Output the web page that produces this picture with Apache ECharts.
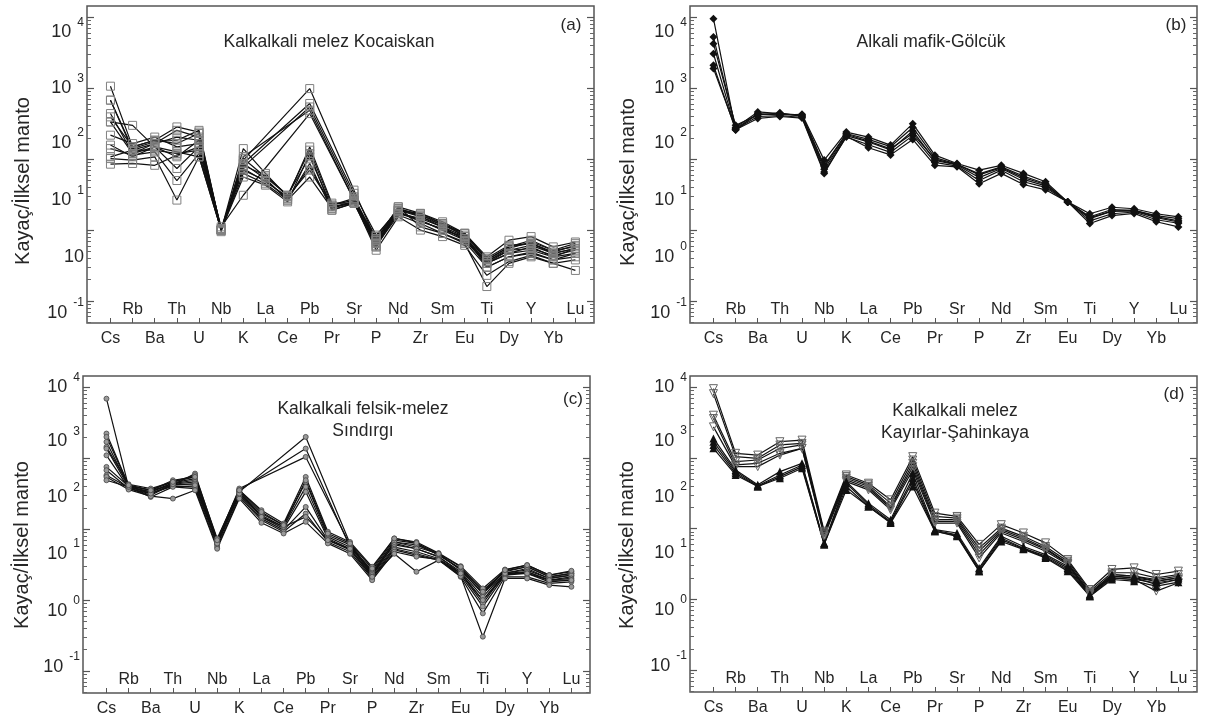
<!DOCTYPE html>
<html>
<head>
<meta charset="utf-8">
<title>Spider diagrams</title>
<script src="https://cdn.jsdelivr.net/npm/echarts@6/dist/echarts.min.js"></script>
<style>
html, body { margin: 0; padding: 0; background: #fff; }
#chart { width: 1206px; height: 723px; }
</style>
</head>
<body>
<div id="chart"></div>
<script>
// element order along the x axis
const elements = ['Cs', 'Rb', 'Ba', 'Th', 'U', 'Nb', 'K', 'La', 'Ce', 'Pb', 'Pr',
  'Sr', 'P', 'Nd', 'Zr', 'Sm', 'Eu', 'Ti', 'Dy', 'Y', 'Yb', 'Lu'];

// (a) Kalkalkali melez Kocaiskan  (rock / primitive mantle)
const kocaiskan = [
  [1070, 149, 185, 166, 230, 10, 97, null, null, 990, null, 36.6, 7.2, 20.2, 15.4, 11.1, 7.2, 3.4, 4.7, 5.8, 4.2, 5.5],
  [680, 134, 166, 255, 205, 10.5, 87, null, null, 610, null, 33, 8.5, 19.1, 17.2, 12.4, 9.0, 3.8, 5.8, 7.2, 5.2, 6.5],
  [440, 120, 149, 108, 185, 10, 78, null, null, 545, null, 29.5, 6.5, 17.2, 13.8, 10, 8.1, 3.0, 4.2, 4.7, 3.8, 4.7],
  [218, 166, 205, 149, 166, 11.1, 31, null, null, 440, null, 26.5, 5.8, 21.3, 11.1, 9.0, 6.5, 1.6, 3.4, 4.2, 3.4, 2.7],
  [108, 134, 134, 120, 134, 10, 108, null, null, 490, null, 26.5, 7.2, 18.1, 13.1, 10.5, 7.6, 3.6, 5.2, 6.1, 4.7, 5.5],
  [395, 149, 185, 285, 241, 10, 141, 63, 29.5, 149, 24, 24, 7.2, 21.3, 17.2, 13.1, 9.0, 4.2, 7.2, 8.1, 5.8, 6.8],
  [335, 120, 166, 205, 185, 9.5, 102, 56, 31, 108, 21.3, 25, 6.5, 19.1, 15.4, 11.8, 8.5, 3.8, 5.8, 6.5, 4.7, 5.5],
  [158, 108, 149, 74, 149, 10, 87, 53, 26.5, 87, 19.1, 24, 5.8, 18.1, 13.8, 10, 7.2, 3.4, 4.7, 5.2, 4.2, 4.7],
  [141, 114, 127, 50, 120, 10, 74, 48, 29.5, 70, 22.5, 26.5, 6.1, 16.3, 12.4, 9.0, 6.8, 3.0, 4.2, 4.9, 3.8, 4.2],
  [102, 97, 108, 26.5, 108, 10, 63, 45, 26.5, 56, 20.2, 25, 5.2, 15.4, 10, 8.1, 6.1, 2.3, 3.6, 4.4, 3.4, 3.8],
  [85, 87, 82, 114, 149, 10.5, 70, 50, 28, 78, 21.3, 24, 6.8, 17.2, 14.6, 11.1, 8.1, 3.4, 5.2, 5.5, 4.4, 5.2],
  [335, 300, 149, 127, 108, 10, 56, 43, 25, 120, 19.1, 24, 8.1, 20.2, 16.3, 12.4, 8.1, 3.6, 5.5, 6.8, 5.2, 5.8],
  [680, 141, 176, 185, 255, 10, 82, 59, 31, 134, 22.5, 28, 7.6, 19.1, 16.3, 11.8, 9.0, 4.0, 6.1, 6.5, 4.9, 6.1]
];

// (b) Alkali mafik-Gölcük
const golcuk = [
  [9560, 257, 440, 420, 430, 97, 241, 205, 158, 317, 114, 87, 70, 82, 63, 48, 25, 17, 21, 20, 17, 15.4],
  [5270, 280, 464, 440, 420, 82, 230, 190, 150, 280, 105, 85, 62, 78, 58, 45, 25, 15.4, 19.5, 19, 16, 14.5],
  [4260, 300, 420, 450, 400, 72, 215, 175, 135, 250, 96, 83, 55, 74, 52, 42, 25, 14.5, 18.5, 18.5, 15, 13],
  [3070, 265, 400, 410, 390, 66, 205, 160, 125, 215, 90, 80, 50, 70, 48, 40, 25, 13.5, 17, 18, 14, 12.5],
  [2110, 260, 375, 400, 380, 63, 210, 145, 115, 190, 82, 78, 45, 63, 44, 37, 25, 12.4, 16, 17.2, 13.1, 11.1],
  [1900, 270, 430, 430, 410, 78, 225, 180, 140, 230, 100, 84, 60, 76, 55, 44, 25, 15, 18.5, 19, 15.5, 13.5]
];

// (c) Kalkalkali felsik-melez Sındırgı
const sindirgi = [
  [6920, 395, 336, 440, 490, 63, 336, null, null, 2000, null, 63, 23.8, 66, 56, 45, 26.5, 12.4, 23.8, 27.9, 20.2, 22.5],
  [2230, 417, 354, 490, 546, 66, 354, null, null, 1370, null, 56, 26.5, 70, 63, 43, 27.9, 13.8, 25.1, 29.5, 21.3, 23.8],
  [1700, 404, 318, 417, 608, 70, 374, null, null, 1045, null, 60, 22.5, 63, 53, 41, 23.8, 10, 22.5, 25.1, 19.1, 21.3],
  [1445, 430, 374, 464, 576, 74, 354, 185, 120, 546, 92, 66, 29.5, 74, 66, 46, 30.1, 14.6, 27, 31.1, 22.5, 25.1],
  [1370, 395, 336, 450, 517, 66, 336, 166, 114, 464, 82, 60, 25.1, 66, 60, 44, 27, 12.4, 25.9, 29.5, 21.3, 23.8],
  [1100, 382, 301, 430, 464, 60, 318, 157, 108, 395, 78, 56, 23.8, 60, 53, 41, 25.1, 11.1, 24.3, 26.5, 20.2, 22.5],
  [755, 404, 354, 417, 440, 63, 347, 149, 102, 336, 74, 53, 22.5, 56, 48, 38.6, 23.8, 9.0, 23.8, 25.1, 19.1, 20.2],
  [678, 374, 318, 404, 395, 64, 301, 141, 97, 206, 70, 51, 21.3, 53, 45, 37.4, 22.5, 8.1, 22.5, 23.8, 18.1, 19.1],
  [576, 387, 285, 395, 374, 56, 285, 134, 92, 166, 66, 48, 20.2, 51, 43, 36.6, 21.3, 6.5, 21.3, 21.3, 17.2, 18.1],
  [546, 362, 292, 270, 354, 53, 270, 123, 87, 127, 63, 45, 19.1, 48, 41, 37.4, 21.8, 3.05, 20.2, 20.2, 16.3, 15.4],
  [490, 395, 318, 430, 417, 63, 318, 149, 108, 149, 70, 53, 21.3, 45, 25.1, 36.6, 23.8, 10, 23.8, 23.8, 19.1, 19.1],
  [2000, 417, 354, 464, 546, 70, 354, 175, 114, 490, 87, 63, 27.9, 74, 64, 45, 29.5, 13.1, 26.5, 31.1, 22.5, 25.9]
];

// (d) Kalkalkali melez Kayırlar-Şahinkaya: open (inverted) and filled triangles
const sahinkayaOpen = [
  [9570, 1165, 1100, 1700, 1790, 92, 576, 440, 256, 1045, 166, 149, 60, 114, 87, 63, 36.6, 13.8, 26.5, 27.9, 22.5, 25.1],
  [8140, 1045, 990, 1530, 1610, 87, 546, 417, 230, 937, 149, 141, 53, 102, 78, 56, 34.7, 13.1, 23.8, 23.8, 20.2, 22.5],
  [4030, 888, 937, 1370, 1530, 82, 517, 395, 206, 841, 134, 134, 48, 97, 74, 53, 32.8, 12.4, 22.5, 21.3, 18.1, 20.2],
  [3620, 797, 841, 1165, 1370, 87, 490, 374, 196, 755, 127, 127, 43, 92, 70, 51, 32.1, 11.8, 21.3, 20.2, 16.3, 19.1],
  [2760, 755, 755, 1100, 1370, 78, 464, 354, 185, 678, 120, 120, 38.6, 87, 66, 48, 31.1, 12.4, 20.2, 19.1, 13.1, 17.2]
];
const sahinkayaFilled = [
  [1890, 678, 417, 642, 841, 63, 464, 230, 134, 608, 97, 87, 27.9, 78, 56, 43, 29.5, 11.8, 22.5, 21.3, 19.1, 21.3],
  [1700, 642, 404, 576, 797, 61.5, 440, 218, 127, 517, 95, 82, 26.5, 74, 53, 41, 27.9, 11.4, 21.3, 20.2, 18.1, 20.2],
  [1530, 608, 395, 546, 755, 60, 395, 206, 123, 464, 92, 80, 25.1, 70, 52, 39.5, 26.5, 11.1, 20.2, 19.1, 17.2, 19.1],
  [1370, 576, 395, 517, 715, 60, 354, 206, 120, 395, 92, 78, 25.1, 66, 51, 38.6, 25.1, 11.1, 19.1, 18.1, 15.4, 17.5]
];

// y tick label texts (10 with exponent), one list per panel
const expLabels = [
  ['4', '3', '2', '1', '', '-1'],
  ['4', '3', '2', '1', '0', '-1'],
  ['4', '3', '2', '1', '0', '-1'],
  ['4', '3', '2', '1', '0', '-1']
];
const titles = [
  ['Kalkalkali melez Kocaiskan'],
  ['Alkali mafik-Gölcük'],
  ['Kalkalkali felsik-melez', 'Sındırgı'],
  ['Kalkalkali melez', 'Kayırlar-Şahinkaya']
];
const letters = ['(a)', '(b)', '(c)', '(d)'];
const yTitle = 'Kayaç/İlksel manto';

// ---- layout (pixels) ----
const FONT = '"Liberation Sans", Arial, sans-serif';
const TXT = '#262626';
const frames = [
  { left: 87, top: 6, width: 507, height: 317 },
  { left: 690, top: 6, width: 507, height: 317 },
  { left: 83, top: 376, width: 507, height: 317 },
  { left: 690, top: 376, width: 507, height: 316 }
];
// where the "10^n" labels sit on each panel (axis units, log10)
const labelPos = [
  [3.79, 3.0, 2.23, 1.42, 0.62, -0.17],
  [3.79, 3.0, 2.23, 1.42, 0.62, -0.17],
  [4.0, 3.24, 2.45, 1.65, 0.85, 0.06],
  [4.0, 3.24, 2.45, 1.65, 0.85, 0.06]
];
const titlePos = [[329, 42], [931, 42], [363, 409], [955, 411]];
const letterPos = [[571, 25], [1176, 25], [573, 399], [1174, 394]];
const yTitlePos = [[23, 181], [628, 182], [22, 545], [627, 545]];

const X_MIN = -1.06, X_MAX = 21.84, Y_MIN = -0.31, Y_MAX = 4.16;

const allIdx = elements.map((e, i) => i);
const evenIdx = allIdx.filter(i => i % 2 === 0);
const oddIdx = allIdx.filter(i => i % 2 === 1);
const decades = [0, 1, 2, 3, 4];
const minors = [];
for (let n = -1; n < 4; n++) {
  for (let k = 2; k < 10; k++) {
    const v = n + Math.log10(k);
    if (v > Y_MIN && v < Y_MAX) minors.push(v);
  }
}

function nearest(list, v) {
  let best = 0;
  list.forEach((p, j) => { if (Math.abs(p - v) < Math.abs(list[best] - v)) best = j; });
  return best;
}

const grid = [], xAxis = [], yAxis = [], series = [], graphic = [];
const noLine = { show: false, onZero: false };

frames.forEach((f, k) => {
  grid.push(Object.assign({ show: true, borderColor: '#555', borderWidth: 1.5, containLabel: false }, f));

  // lower row of element names + ticks
  xAxis.push({
    type: 'value', gridIndex: k, min: X_MIN, max: X_MAX, position: 'bottom',
    axisLine: noLine, splitLine: { show: false },
    axisTick: { inside: true, length: 5, customValues: allIdx, lineStyle: { color: '#555', width: 1 } },
    axisLabel: {
      customValues: evenIdx, margin: 8, fontSize: 16, color: TXT, fontFamily: FONT,
      formatter: v => elements[Math.round(v)]
    }
  });
  // upper row, drawn inside the frame
  xAxis.push({
    type: 'value', gridIndex: k, min: X_MIN, max: X_MAX, position: 'bottom',
    axisLine: noLine, axisTick: { show: false }, splitLine: { show: false },
    axisLabel: {
      inside: true, customValues: oddIdx, margin: 5, fontSize: 16, color: TXT, fontFamily: FONT,
      formatter: v => elements[Math.round(v)]
    }
  });

  const yBase = { type: 'value', gridIndex: k, min: Y_MIN, max: Y_MAX, splitLine: { show: false }, axisLine: noLine };
  yAxis.push(Object.assign({}, yBase, {
    position: 'left',
    axisTick: { inside: true, length: 7, customValues: decades, lineStyle: { color: '#555', width: 1.2 } },
    axisLabel: {
      customValues: labelPos[k], margin: 3, color: TXT, fontFamily: FONT,
      formatter: v => {
        const s = expLabels[k][nearest(labelPos[k], v)];
        return '{b|10}' + (s ? '{s|' + s + '}' : '');
      },
      rich: {
        b: { fontSize: 18, fontFamily: FONT, color: TXT },
        s: { fontSize: 12, fontFamily: FONT, color: TXT, padding: [0, 0, 20, 6] }
      }
    }
  }));
  yAxis.push(Object.assign({}, yBase, {
    position: 'left', axisLabel: { show: false },
    axisTick: { inside: true, length: 4, customValues: minors, lineStyle: { color: '#666' } }
  }));
  yAxis.push(Object.assign({}, yBase, {
    position: 'right', axisLabel: { show: false },
    axisTick: { inside: true, length: 7, customValues: decades, lineStyle: { color: '#555', width: 1.2 } }
  }));
  yAxis.push(Object.assign({}, yBase, {
    position: 'right', axisLabel: { show: false },
    axisTick: { inside: true, length: 4, customValues: minors, lineStyle: { color: '#666' } }
  }));

  // texts
  titles[k].forEach((t, j) => {
    graphic.push({
      type: 'text', x: titlePos[k][0], y: titlePos[k][1] + j * 22, silent: true,
      style: { text: t, align: 'center', verticalAlign: 'middle', font: '17.5px ' + FONT, fill: TXT }
    });
  });
  graphic.push({
    type: 'text', x: letterPos[k][0], y: letterPos[k][1], silent: true,
    style: { text: letters[k], align: 'center', verticalAlign: 'middle', font: '17px ' + FONT, fill: TXT }
  });
  graphic.push({
    type: 'text', x: yTitlePos[k][0], y: yTitlePos[k][1], rotation: Math.PI / 2, silent: true,
    style: { text: yTitle, align: 'center', verticalAlign: 'middle', font: '20px ' + FONT, fill: TXT }
  });
});

// one line per sample; missing elements are skipped so the line joins its neighbours
function addSamples(rows, k, marker) {
  rows.forEach(row => {
    const pts = [];
    row.forEach((v, i) => { if (v != null) pts.push([i, Math.log10(v)]); });
    series.push(Object.assign({
      type: 'line', xAxisIndex: k * 2, yAxisIndex: k * 4, data: pts,
      lineStyle: { color: '#111', width: 1.2 }, silent: true, animation: false
    }, marker));
  });
}

addSamples(kocaiskan, 0, {
  symbol: 'rect', symbolSize: 8,
  itemStyle: { color: 'rgba(255,255,255,0)', borderColor: '#808080', borderWidth: 1 }
});
addSamples(golcuk, 1, {
  symbol: 'diamond', symbolSize: 8, itemStyle: { color: '#111' }
});
addSamples(sindirgi, 2, {
  symbol: 'circle', symbolSize: 5, itemStyle: { color: '#999', borderColor: '#444', borderWidth: 0.8 }
});
addSamples(sahinkayaOpen, 3, {
  symbol: 'triangle', symbolRotate: 180, symbolSize: 8,
  itemStyle: { color: 'rgba(255,255,255,0)', borderColor: '#666', borderWidth: 1 }
});
addSamples(sahinkayaFilled, 3, {
  symbol: 'triangle', symbolSize: 8, itemStyle: { color: '#111' }
});

const chart = echarts.init(document.getElementById('chart'), null, { renderer: 'canvas' });
chart.setOption({
  backgroundColor: '#fff',
  animation: false,
  grid: grid,
  xAxis: xAxis,
  yAxis: yAxis,
  series: series,
  graphic: graphic
});
</script>
</body>
</html>
